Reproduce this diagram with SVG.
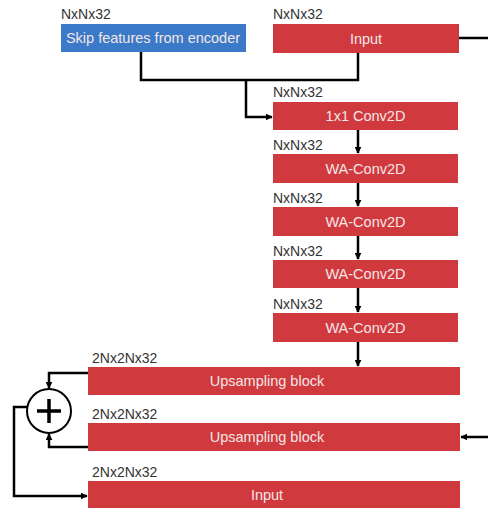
<svg xmlns="http://www.w3.org/2000/svg" width="488" height="508" viewBox="0 0 488 508">
<defs>
<marker id="ah" viewBox="0 0 10 10" refX="9" refY="5" markerWidth="7" markerHeight="7" orient="auto-start-reverse" markerUnits="userSpaceOnUse">
<path d="M0,0 L10,5 L0,10 z" fill="#000"/>
</marker>
<style>
.red{fill:#d03a3f}
.blue{fill:#3a7ac8}
.bt{font-family:"Liberation Sans",Arial,sans-serif;font-size:14.5px;fill:#f4e6e6;text-anchor:middle;dominant-baseline:central}
.lb{font-family:"Liberation Sans",Arial,sans-serif;font-size:14px;fill:#333}
.ln{fill:none;stroke:#000;stroke-width:2.5}
</style>
</defs>
<rect width="488" height="508" fill="#fff"/>
<g id="connectors">
<path class="ln" d="M141,52 V80 H358 V53"/>
<path class="ln" d="M246,80 V117 H272" marker-end="url(#ah)"/>
<path class="ln" d="M459,38 H488"/>
<path class="ln" d="M358,130 V153" marker-end="url(#ah)"/>
<path class="ln" d="M358,183 V206" marker-end="url(#ah)"/>
<path class="ln" d="M358,236 V259" marker-end="url(#ah)"/>
<path class="ln" d="M358,288 V312" marker-end="url(#ah)"/>
<path class="ln" d="M358,342 V366" marker-end="url(#ah)"/>
<path class="ln" d="M88,373 H49 V388" marker-end="url(#ah)"/>
<path class="ln" d="M88,447 H49 V434" marker-end="url(#ah)"/>
<path class="ln" d="M488,437 H461" marker-end="url(#ah)"/>
<path class="ln" d="M27,407 H14 V496 H87" marker-end="url(#ah)"/>
</g>
<g id="skip"><text class="lb" x="61" y="19">NxNx32</text><rect class="blue" x="61" y="24" width="185" height="28"/><text class="bt" x="153" y="38">Skip features from encoder</text></g>
<g id="input-top"><text class="lb" x="273" y="19">NxNx32</text><rect class="red" x="273" y="24" width="186" height="29"/><text class="bt" x="366" y="38.5">Input</text></g>
<g id="conv1x1"><text class="lb" x="273" y="97">NxNx32</text><rect class="red" x="273" y="102" width="185" height="28"/><text class="bt" x="365.5" y="116">1x1 Conv2D</text></g>
<g id="wa1"><text class="lb" x="273" y="150">NxNx32</text><rect class="red" x="273" y="154" width="185" height="29"/><text class="bt" x="365.5" y="168.5">WA-Conv2D</text></g>
<g id="wa2"><text class="lb" x="273" y="203">NxNx32</text><rect class="red" x="273" y="207" width="185" height="29"/><text class="bt" x="365.5" y="221.5">WA-Conv2D</text></g>
<g id="wa3"><text class="lb" x="273" y="256">NxNx32</text><rect class="red" x="273" y="260" width="185" height="28"/><text class="bt" x="365.5" y="274">WA-Conv2D</text></g>
<g id="wa4"><text class="lb" x="273" y="309">NxNx32</text><rect class="red" x="273" y="313" width="185" height="29"/><text class="bt" x="365.5" y="327.5">WA-Conv2D</text></g>
<g id="up1"><text class="lb" x="92" y="363">2Nx2Nx32</text><rect class="red" x="88" y="367" width="372" height="28"/><text class="bt" x="267" y="381">Upsampling block</text></g>
<g id="up2"><text class="lb" x="92" y="419">2Nx2Nx32</text><rect class="red" x="88" y="423" width="372" height="28"/><text class="bt" x="267" y="437">Upsampling block</text></g>
<g id="input-bottom"><text class="lb" x="92" y="477">2Nx2Nx32</text><rect class="red" x="88" y="481" width="372" height="30"/><text class="bt" x="267" y="495">Input</text></g>
<g id="sum"><circle cx="49" cy="411" r="22" fill="#fff" stroke="#000" stroke-width="2"/><path d="M37,411 H61 M49,399 V423" stroke="#000" stroke-width="3.5" fill="none"/></g>
</svg>
